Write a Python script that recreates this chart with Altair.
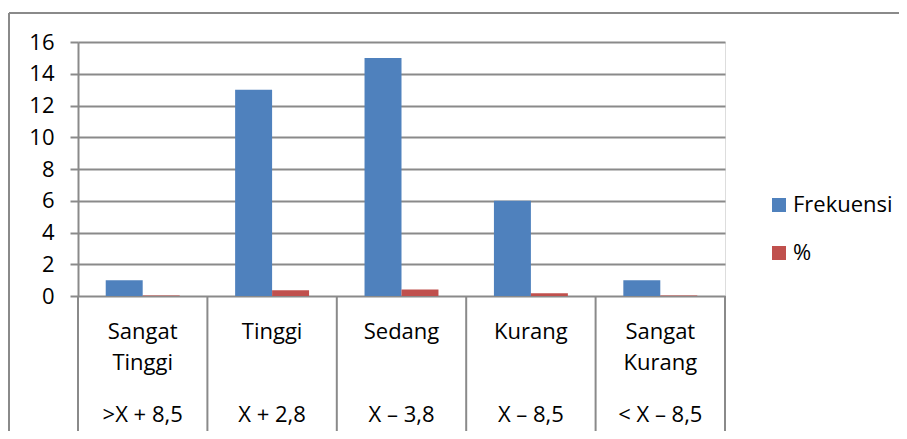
import altair as alt
import pandas as pd

categories = ["Sangat Tinggi", "Tinggi", "Sedang", "Kurang", "Sangat Kurang"]
ranges = [">X + 8,5", "X + 2,8", "X \u2013 3,8", "X \u2013 8,5", "< X \u2013 8,5"]
frekuensi = [1, 13, 15, 6, 1]
persen = [0.0278, 0.3611, 0.4167, 0.1667, 0.0278]
series = ["Frekuensi", "%"]
colors = ["#4F81BD", "#C0504D"]
y_ticks = [0, 2, 4, 6, 8, 10, 12, 14, 16]

W, H = 647, 254
FONT = "Open Sans"
FS = 22
GRAY = "#8a8a8a"

rows = []
for c, f, p in zip(categories, frekuensi, persen):
    rows.append({"cat": c, "series": "Frekuensi", "value": f})
    rows.append({"cat": c, "series": "%", "value": p})
bars_df = pd.DataFrame(rows)

labels_df = pd.DataFrame({
    "cat": categories,
    "label": [c.replace(" ", "\n") for c in categories],
    "range": ranges,
})

xscale = alt.Scale(domain=categories, paddingInner=0, paddingOuter=0)

bars = alt.Chart(bars_df).mark_bar().encode(
    x=alt.X("cat:N", scale=xscale, sort=categories, axis=None),
    xOffset=alt.XOffset("series:N", sort=series,
                        scale=alt.Scale(domain=series, paddingInner=0, paddingOuter=0.75)),
    y=alt.Y("value:Q", scale=alt.Scale(domain=[0, 16], nice=False),
            axis=alt.Axis(values=y_ticks, title=None, grid=True, gridColor=GRAY, gridWidth=2,
                          domainColor=GRAY, domainWidth=2, tickColor=GRAY, tickWidth=2,
                          tickSize=8, labelFontSize=FS, labelFont=FONT, labelColor="black",
                          labelPadding=16)),
    color=alt.Color("series:N", sort=series,
                    scale=alt.Scale(domain=series, range=colors),
                    legend=alt.Legend(title=None, orient="none", legendX=690, legendY=152,
                                      symbolType="square", symbolSize=196, symbolStrokeWidth=0,
                                      labelFontSize=FS, labelFont=FONT, labelColor="black",
                                      labelOffset=3, rowPadding=26)),
)

cat_text = alt.Chart(labels_df).mark_text(
    fontSize=FS, font=FONT, color="black", baseline="alphabetic", lineBreak="\n", lineHeight=31
).encode(
    x=alt.X("cat:N", scale=xscale, sort=categories, axis=None),
    y=alt.value(297),
    text="label:N",
)

range_text = alt.Chart(labels_df).mark_text(
    fontSize=FS, font=FONT, color="black", baseline="alphabetic"
).encode(
    x=alt.X("cat:N", scale=xscale, sort=categories, axis=None),
    y=alt.value(380),
    text="range:N",
)

dividers = alt.Chart(labels_df).mark_rule(color=GRAY, strokeWidth=2).encode(
    x=alt.X("cat:N", scale=xscale, sort=categories, axis=None, bandPosition=0),
    y=alt.value(H),
    y2=alt.value(H + 136),
)

last_divider = alt.Chart(labels_df.tail(1)).mark_rule(color=GRAY, strokeWidth=2).encode(
    x=alt.X("cat:N", scale=xscale, sort=categories, axis=None, bandPosition=1),
    y=alt.value(H),
    y2=alt.value(H + 136),
)

border_top = alt.Chart(labels_df.head(1)).mark_rule(color=GRAY, strokeWidth=2).encode(
    x=alt.value(-69), x2=alt.value(830), y=alt.value(-29)
)
border_left = alt.Chart(labels_df.head(1)).mark_rule(color=GRAY, strokeWidth=2).encode(
    x=alt.value(-69), y=alt.value(-29), y2=alt.value(400)
)

chart = alt.layer(
    bars, cat_text, range_text, dividers, last_divider, border_top, border_left
).properties(
    width=W, height=H,
    autosize=alt.AutoSizeParams(type="none"),
    padding={"left": 70, "top": 34, "right": 174, "bottom": 135},
).configure_view(stroke=None).configure(background="white")

chart.save("out.html", embed_options={"renderer": "svg", "actions": False})
